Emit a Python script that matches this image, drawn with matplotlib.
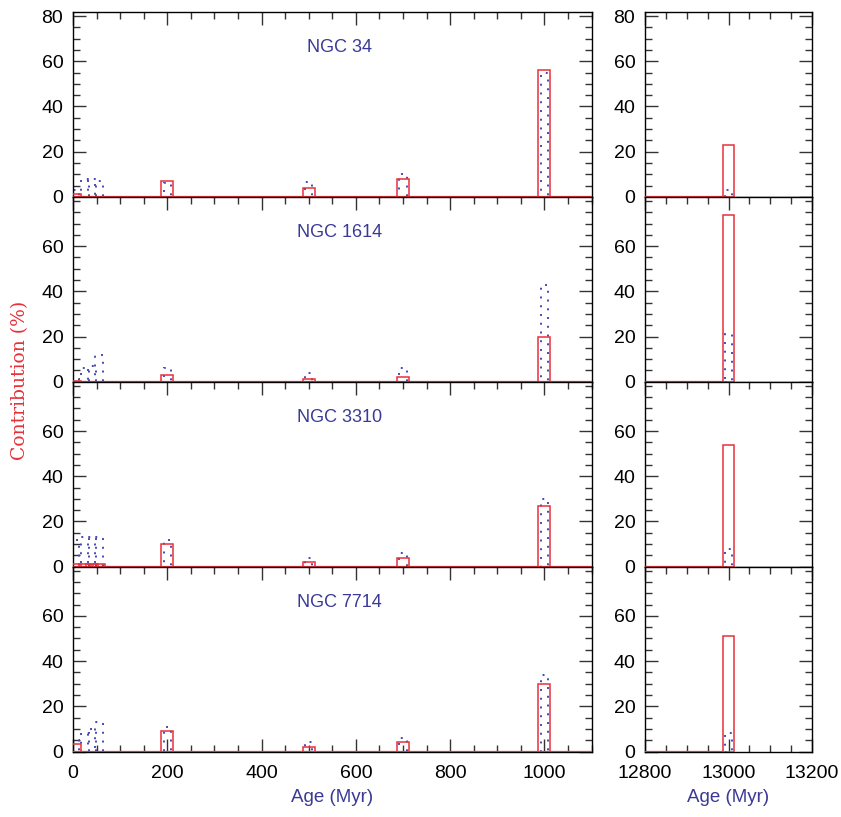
import matplotlib
matplotlib.use("Agg")
import matplotlib.pyplot as plt
from matplotlib.ticker import MultipleLocator, FixedLocator

plt.rcParams['font.family'] = ['Liberation Sans', 'DejaVu Sans']

galaxies = ["NGC 34", "NGC 1614", "NGC 3310", "NGC 7714"]
ages_young = [5, 25, 40, 55, 200, 500, 700, 1000]
age_old = 13000

red_young = [
    [1.2, 0, 0, 0, 7, 4, 8, 56],
    [0.5, 0, 0, 0, 3, 1, 2, 20],
    [1, 1, 1, 1, 10, 2, 4, 27],
    [3.5, 0, 0, 0, 9, 2, 4, 30],
]
red_old = [23, 74, 54, 51]

blue_young = [
    [3, 8, 8, 7, 6, 6.5, 10, 55],
    [1, 6, 7, 12, 6, 4, 6, 43],
    [12, 13, 13, 13, 12, 4, 6, 30],
    [5, 8, 10, 13, 11, 4, 6, 34],
]
blue_old = [3, 21, 8, 8]

left_xticks = [0, 200, 400, 600, 800, 1000]
right_xticks = [12800, 13000, 13200]
yticks = [0, 20, 40, 60, 80]

RED = '#e8303a'
BLUE = '#4848b4'
NAVY = '#3a3a96'
W_RED = 25
W_BLUE = 16

W, H = 841, 817
fig = plt.figure(figsize=(W / 100, H / 100), dpi=100)

top_px, bot_px = 12, 751.5
ph = (bot_px - top_px) / 4
lx0, lx1 = 73, 591.5
rx0, rx1 = 645, 812
YMAX = 81.8
FS = 14

def style(ax, last, xmaj, xmin, first):
    ax.set_ylim(0, YMAX)
    ax.yaxis.set_major_locator(FixedLocator(yticks if first else yticks[:-1]))
    ax.yaxis.set_minor_locator(MultipleLocator(5))
    ax.xaxis.set_major_locator(FixedLocator(xmaj))
    ax.xaxis.set_minor_locator(MultipleLocator(xmin))
    ax.tick_params(which='both', direction='in', top=True, right=True,
                   bottom=last, labelbottom=last, labelsize=FS, width=1.0,
                   color='#333333')
    ax.tick_params(which='major', length=9.5)
    ax.tick_params(which='minor', length=5)
    ax.tick_params(axis='x', which='major', pad=10)
    ax.tick_params(axis='y', which='major', pad=7)
    for s in ax.spines.values():
        s.set_linewidth(1.0)

for i, name in enumerate(galaxies):
    y0 = 1 - (top_px + (i + 1) * ph) / H
    last = (i == 3)
    axl = fig.add_axes([lx0 / W, y0, (lx1 - lx0) / W, ph / H])
    axr = fig.add_axes([rx0 / W, y0, (rx1 - rx0) / W, ph / H])

    # left panel
    axl.set_xlim(0, 1100)
    axl.bar(ages_young, blue_young[i], width=W_BLUE, fill=False,
            edgecolor=BLUE, linestyle=(0, (1, 3.5)), linewidth=1.4, zorder=2)
    axl.bar(ages_young, red_young[i], width=W_RED, fill=False,
            edgecolor=RED, linewidth=1.1, zorder=3)
    axl.axhline(0, color=RED, linewidth=1.6, zorder=4)
    style(axl, last, left_xticks, 50, i == 0)
    axl.text(565, 66, name, color=NAVY, fontsize=13, ha='center', va='center')

    # right panel
    axr.set_xlim(12800, 13200)
    axr.bar([age_old], [blue_old[i]], width=W_BLUE, fill=False,
            edgecolor=BLUE, linestyle=(0, (1, 3.5)), linewidth=1.4, zorder=2)
    axr.bar([age_old], [red_old[i]], width=W_RED, fill=False,
            edgecolor=RED, linewidth=1.1, zorder=3)
    axr.plot([12800, age_old - W_RED / 2], [0, 0], color=RED,
             linewidth=1.6, zorder=4, solid_capstyle='butt')
    style(axr, last, right_xticks, 50, i == 0)

    if last:
        axl.set_xlabel("Age (Myr)", color=NAVY, fontsize=13.5, labelpad=5)
        axr.set_xlabel("Age (Myr)", color=NAVY, fontsize=13.5, labelpad=5)

fig.text(20 / W, 1 - 380 / H, "Contribution (%)", color=RED, fontsize=13.5,
         rotation=90, ha='center', va='center',
         family=['DejaVu Serif', 'Liberation Serif'])

fig.savefig("out.png", dpi=100)
